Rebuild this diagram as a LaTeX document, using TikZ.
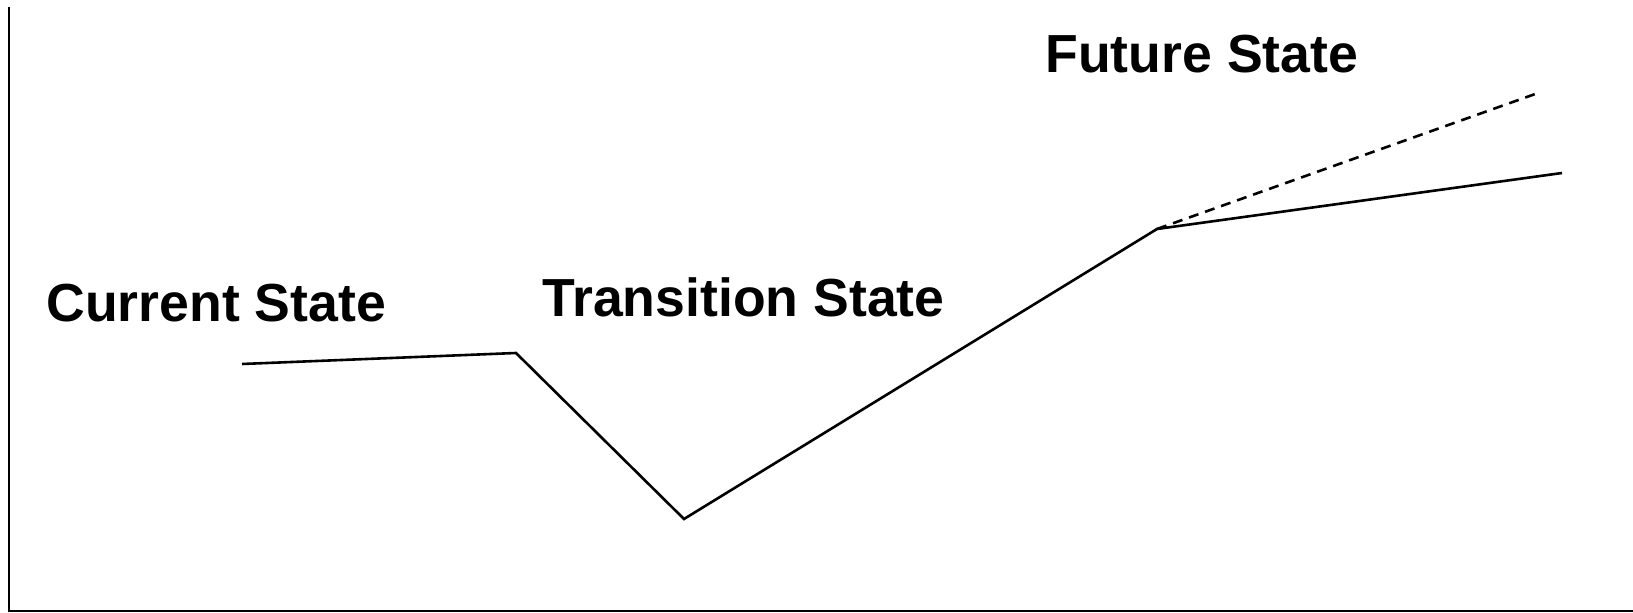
\documentclass[tikz,border=0pt]{standalone}
\usepackage{fontspec}
\setmainfont{Liberation Sans}
\usepackage{tikz}
\usetikzlibrary{positioning, calc}

\tikzset{
  statelabel/.style={anchor=base west, inner sep=0pt, font=\bfseries\fontsize{26.8pt}{30pt}\selectfont},
  pathline/.style={line width=1.3pt},
  axisline/.style={line width=1pt}
}

\begin{document}
\begin{tikzpicture}[x=0.5pt, y=-0.5pt]
    \useasboundingbox (0,0) rectangle (1633,613);
    % axes
    \coordinate (top) at (9,7);
    \coordinate (origin) at (9,611);
    \coordinate (right) at (1633,611);
    \draw[axisline] (top) -- (origin) -- (right);

    % turning points
    \coordinate (cstart) at (242,364);
    \coordinate (cend) at (516,353);
    \coordinate (dip) at (684,519);
    \coordinate (future) at (1157,229);
    \coordinate (planned) at (1562,173);
    \coordinate (hoped) at (1538,93);

    \draw[pathline] (cstart) -- (cend) -- (dip) -- (future) -- (planned);
    \draw[pathline, dash pattern=on 5pt off 3.5pt] (future) -- (hoped);

    % labels
    \node[statelabel] (current) at (46,322) {Current State};
    \node[statelabel] (transition) at (542,317) {Transition State};
    \node[statelabel] (futurelbl) at (1045,73) {Future State};
  \end{tikzpicture}
\end{document}
